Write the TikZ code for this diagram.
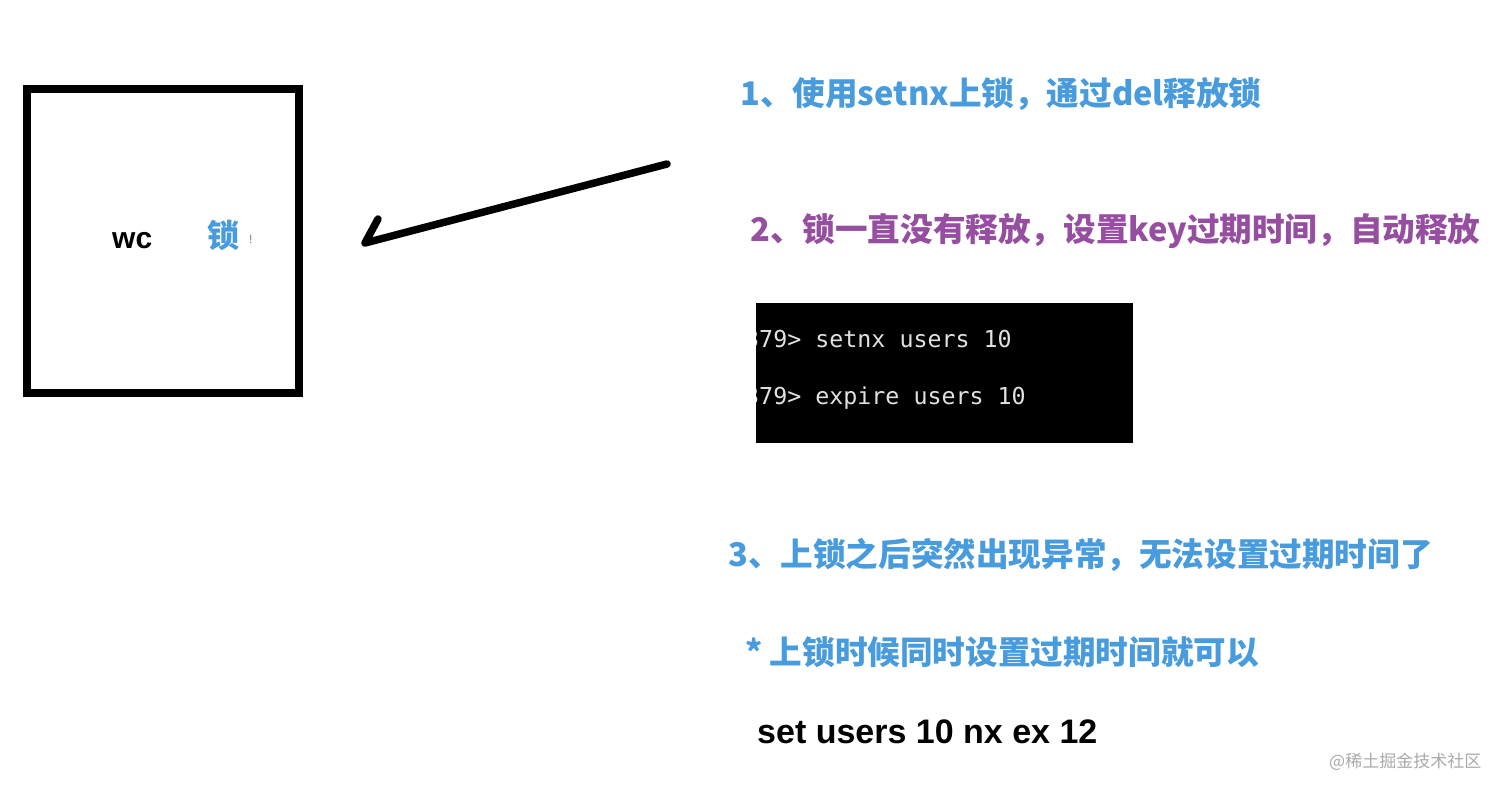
\documentclass[tikz,border=0pt]{standalone}
\usepackage{fontspec}
\newfontfamily\cjk{Noto Sans CJK SC}
\newfontfamily\mono{DejaVu Sans Mono}
\newfontfamily\lib{Liberation Sans}
\definecolor{tblue}{RGB}{72,156,222}
\definecolor{tpurple}{RGB}{150,78,160}
\definecolor{termtxt}{RGB}{225,225,225}
\definecolor{wm}{RGB}{170,170,170}
\tikzset{
  lbl/.style={anchor=west, inner sep=0pt, font=\cjk\bfseries\fontsize{32.6}{32.6}\selectfont},
  term/.style={anchor=west, inner sep=0pt, text=termtxt, font=\mono\fontsize{23.3}{23.3}\selectfont},
}
\begin{document}
\begin{tikzpicture}[x=1pt,y=-1pt]
\useasboundingbox (0,0) rectangle (1512,795);
\fill[white] (0,0) rectangle (1512,795);
% box
\node[draw=black, line width=8pt, minimum width=272pt, minimum height=304pt, inner sep=0pt] (box) at (163,241) {};
\node[anchor=west, inner sep=0pt, font=\lib\bfseries\fontsize{30}{30}\selectfont] (wc) at (112,241) {wc};
\node[anchor=west, inner sep=0pt, text=tblue, font=\cjk\bfseries\fontsize{32}{32}\selectfont] (lock) at (207,235) {锁};
\node[anchor=west, inner sep=0pt, text=gray, font=\lib\fontsize{12}{12}\selectfont] (excl) at (249,239) {!};
% arrow
\coordinate (astart) at (667,164);
\coordinate (atip) at (365,243);
\coordinate (abarb) at (378,219);
\draw[line width=7.5pt, line cap=round, line join=round] (astart) -- (atip) -- (abarb);
% texts
\node[lbl, text=tblue] (t1) at (740,94) {1、使用setnx上锁，通过del释放锁};
\node[lbl, text=tpurple] (t2) at (750,231) {2、锁一直没有释放，设置key过期时间，自动释放};
% terminal
\node[fill=black, minimum width=377pt, minimum height=140pt, inner sep=0pt, anchor=north west] (termbox) at (756,303) {};
\begin{scope}
\clip (termbox.south west) rectangle (termbox.north east);
\node[term] (c1) at (745,339) {379> setnx users 10};
\node[term] (c2) at (745,398) {379> expire users 10};
\end{scope}
\node[lbl, text=tblue] (t3) at (728,555) {3、上锁之后突然出现异常，无法设置过期时间了};
\node[lbl, text=tblue] (t4) at (745,652) {* 上锁时候同时设置过期时间就可以};
\node[anchor=west, inner sep=0pt, font=\lib\bfseries\fontsize{34}{34}\selectfont] (t5) at (757,732) {set users 10 nx ex 12};
\node[anchor=west, inner sep=0pt, text=wm, font=\cjk\fontsize{17}{17}\selectfont] (wmk) at (1329,762) {@稀土掘金技术社区};
\end{tikzpicture}
\end{document}
